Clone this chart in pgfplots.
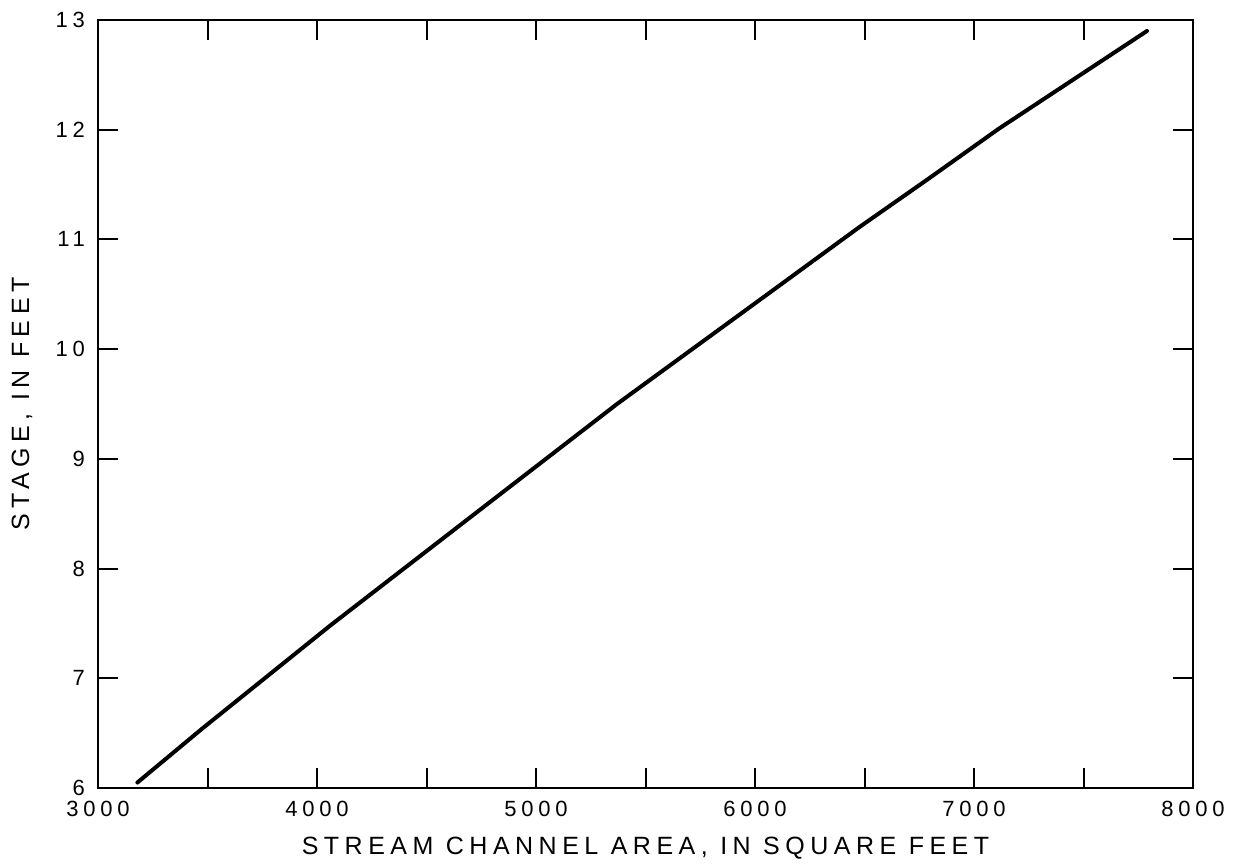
\documentclass[border=0pt]{standalone}
\usepackage{fontspec}
\setmainfont{Liberation Sans}
\newfontfamily\spaced[LetterSpace=22]{Liberation Sans}
\usepackage{pgfplots}
\pgfplotsset{compat=1.18}
\begin{document}
\begin{tikzpicture}
\begin{axis}[
  at={(0,0)}, anchor=south west,
  scale only axis, width=547.5pt, height=384pt,
  xmin=3000, xmax=8000, ymin=6, ymax=13,
  xtick={3000,4000,...,8000}, minor xtick={3500,4500,...,7500},
  ytick={6,...,13},
  tick align=inside, tick pos=both,
  major tick length=10pt, minor tick length=10pt,
  axis line style={line width=1.2pt},
  every tick/.style={black, line width=1pt},
  every minor tick/.style={black, line width=1pt},
  scaled x ticks=false,
  /pgf/number format/assume math mode=true,
  /pgf/number format/1000 sep={},
  x tick label style={font=\fontsize{11}{12}\selectfont\spaced, yshift=-3pt},
  y tick label style={font=\fontsize{11}{12}\selectfont\spaced, xshift=-3pt},
  xlabel={STREAM CHANNEL AREA, IN SQUARE FEET},
  ylabel={STAGE, IN FEET},
  every axis x label/.style={at={(axis description cs:0.5,0)}, anchor=center, yshift=-30pt, font=\fontsize{12.5}{14}\selectfont\spaced},
  every axis y label/.style={at={(axis description cs:0,0.5)}, xshift=-38pt, rotate=90, anchor=center, font=\fontsize{12.5}{14}\selectfont\spaced},
]
\addplot[black, line width=2pt, line join=round, line cap=round] coordinates {
(3180,6.05) (3475,6.54) (4060,7.48) (4721,8.50) (5370,9.50)
(6050,10.49) (6475,11.11) (6790,11.55) (7114,12.01) (7790,12.90)
};
\end{axis}
\path[use as bounding box] (-49pt,-38pt) rectangle (568.5pt,394pt);
\end{tikzpicture}
\end{document}
